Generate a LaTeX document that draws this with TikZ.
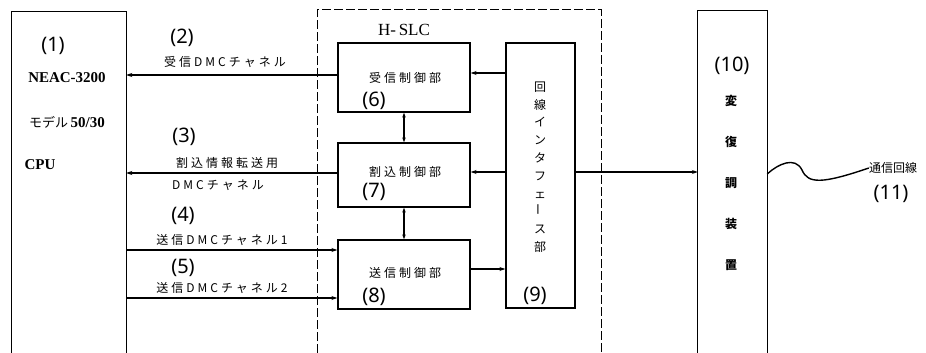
\documentclass[tikz,border=0pt]{standalone}
\usepackage{fontspec}
\setmainfont{Liberation Serif}
\newfontfamily\jp{Noto Sans CJK JP}
\newfontfamily\jpsp[LetterSpace=25]{Noto Sans CJK JP}
\newfontfamily\lab{Noto Sans}
\usetikzlibrary{arrows.meta}
\begin{document}
\begin{tikzpicture}[x=1pt,y=-1pt,
  boxline/.style={line width=1.3pt},
  blk/.style={draw,line width=1.3pt,inner sep=0pt},
  arr/.style={line width=1.2pt,-{Stealth[length=6pt,width=4pt]}},
  darr/.style={line width=1.2pt,{Stealth[length=5pt,width=3.5pt]}-{Stealth[length=5pt,width=3.5pt]}},
  num/.style={font=\lab\fontsize{20}{22}\selectfont,inner sep=0pt},
  bnum/.style={font=\lab\bfseries\fontsize{20}{22}\selectfont,inner sep=0pt},
  jtxt/.style={font=\jpsp\fontsize{12}{14}\selectfont,inner sep=0pt},
  ltxt/.style={font=\bfseries\fontsize{15}{17}\selectfont,inner sep=0pt}]
\useasboundingbox[fill=white] (0,0) rectangle (926,353);
% outer blocks
\node[inner sep=0pt,minimum width=114pt,minimum height=341pt] (cpu) at (69,182.5) {};
\draw[boxline] (cpu.south west) -- (cpu.north west) -- (cpu.north east) -- (cpu.south east);
\node[inner sep=0pt,minimum width=283pt,minimum height=343pt] (hslc) at (459.5,181.5) {};
\draw[line width=1pt,dash pattern=on 9pt off 3pt] (hslc.south west) -- (hslc.north west) -- (hslc.north east) -- (hslc.south east);
\node[inner sep=0pt,minimum width=69pt,minimum height=342pt] (b10) at (732.5,182) {};
\draw[boxline] (b10.south west) -- (b10.north west) -- (b10.north east) -- (b10.south east);
% inner blocks
\node[blk,minimum width=132pt,minimum height=69pt] (b6) at (404,77.5) {};
\node[blk,minimum width=132pt,minimum height=64pt] (b7) at (404,175) {};
\node[blk,minimum width=132pt,minimum height=69pt] (b8) at (404,274.5) {};
\node[blk,minimum width=69pt,minimum height=265pt] (b9) at (540.5,175.5) {};
% texts in CPU
\node[num] (n1) at (53,46) {(1)};
\node[ltxt] (neac) at (67,78) {NEAC-3200};
\node[inner sep=0pt,font=\fontsize{15}{17}\selectfont] (model) at (67,122) {{\jp\fontsize{13}{15}\selectfont モデル}\,\textbf{50/30}};
\node[ltxt] (cpuT) at (40,165) {CPU};
% channel labels
\node[num] (n2) at (182,38) {(2)};
\node[jtxt] (t2) at (225,62) {受信DMCチャネル};
\node[num] (n3) at (184,137) {(3)};
\node[jtxt] (t3a) at (227,163) {割込情報転送用};
\node[jtxt] (t3b) at (218,185) {DMCチャネル};
\node[num] (n4) at (183,216) {(4)};
\node[jtxt] (t4) at (222,240) {送信DMCチャネル1};
\node[num] (n5) at (183,268) {(5)};
\node[jtxt] (t5) at (222,288) {送信DMCチャネル2};
% H-SLC contents
\node[inner sep=0pt,font=\fontsize{17}{19}\selectfont] (hl) at (404,30) {H-\,SLC};
\node[jtxt] (t6) at (405,78) {受信制御部};
\node[num] (n6) at (374,101) {(6)};
\node[jtxt] (t7) at (405,172) {割込制御部};
\node[num] (n7) at (374,192) {(7)};
\node[jtxt] (t8) at (405,273) {送信制御部};
\node[num] (n8) at (374,297) {(8)};
\node[inner sep=0pt,align=center,font=\jp\fontsize{12}{17.8}\selectfont] (t9) at (540,167)
  {回\\線\\イ\\ン\\タ\\フ\\ェ\\\rotatebox{90}{ー}\\ス\\部};
\node[num] (n9) at (535,296) {(9)};
% modem
\node[bnum] (n10) at (732,66) {(10)};
\node[inner sep=0pt,align=center,font=\jp\bfseries\fontsize{12}{41}\selectfont] (t10) at (731,183)
  {変\\復\\調\\装\\置};
% line
\node[inner sep=0pt,font=\jp\fontsize{12}{14}\selectfont] (t11) at (893,168) {通信回線};
\node[bnum] (n11) at (891,194) {(11)};
% connectors
\draw[arr] (b6.west |- 0,75) -- (cpu.east |- 0,75);
\draw[arr] (b7.west |- 0,173) -- (cpu.east |- 0,173);
\draw[arr] (cpu.east |- 0,250) -- (b8.west |- 0,250);
\draw[arr] (cpu.east |- 0,298) -- (b8.west |- 0,298);
\draw[arr] (b9.west |- 0,73) -- (b6.east |- 0,73);
\draw[arr] (b9.west |- 0,172) -- (b7.east |- 0,172);
\draw[arr] (b8.east |- 0,269) -- (b9.west |- 0,269);
\draw[darr] (b6.south) -- (b7.north);
\draw[darr] (b7.south) -- (b8.north);
\draw[arr] (b9.east |- 0,172) -- (b10.west |- 0,172);
\draw[line width=1.4pt] (b10.east |- 0,174) .. controls (778,164) and (795,156) .. (802,170)
  .. controls (808,184) and (822,184) .. (t11.west);
\end{tikzpicture}
\end{document}
